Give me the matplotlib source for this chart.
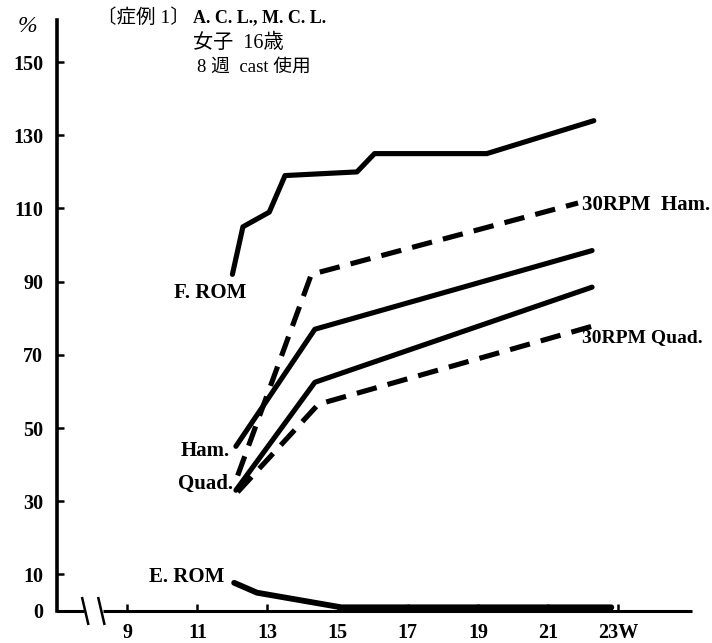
import matplotlib
matplotlib.use("Agg")
import matplotlib.pyplot as plt

plt.rcParams["font.family"] = ["Liberation Serif", "Noto Sans CJK JP"]

# 週
X_TICKS = [9, 11, 13, 15, 17, 19, 21, 23]
X_LABELS = ["9", "11", "13", "15", "17", "19", "21", "23W"]
Y_TICKS = [0, 10, 30, 50, 70, 90, 110, 130, 150]

# F. ROM (実線)
from_w = [12.0, 12.3, 13.05, 13.5, 15.55, 16.05, 19.25, 22.3]
from_v = [92, 105, 109, 119, 120, 125, 125, 134]
# 30RPM Ham. (破線)
ham30_w = [12.15, 14.25, 21.85]
ham30_v = [37, 92, 111.5]
# Ham. (実線)
ham_w = [12.1, 14.35, 22.25]
ham_v = [45, 77, 98.5]
# Quad. (実線)
quad_w = [12.1, 14.35, 22.25]
quad_v = [33, 62.5, 88.5]
# 30RPM Quad. (破線)
quad30_w = [12.15, 14.45, 22.5]
quad30_v = [32.5, 56.5, 78.5]
# E. ROM
erom_w = [12.05, 12.7, 15.1, 22.8]
erom_v = [7.7, 5.0, 1.0, 1.0]

fig = plt.figure(figsize=(7.12, 6.43), dpi=100)
ax = fig.add_axes([0.080, 0.0498, 0.892, 0.919])

LW = 3.7
DASH = (4, 2.2)
ax.plot(from_w, from_v, color="black", lw=LW, solid_capstyle="round")
ax.plot(ham_w, ham_v, color="black", lw=LW, solid_capstyle="round")
ax.plot(quad_w, quad_v, color="black", lw=LW, solid_capstyle="round")
ax.plot(ham30_w, ham30_v, color="black", lw=LW, dashes=DASH)
ax.plot(quad30_w, quad30_v, color="black", lw=LW, dashes=DASH)
ax.plot(erom_w, erom_v, color="black", lw=LW + 0.5, solid_capstyle="round", clip_on=False)

ax.set_xlim(7, 25.1)
ax.set_ylim(0, 161.5)

for s in ["top", "right", "bottom"]:
    ax.spines[s].set_visible(False)
ax.spines["left"].set_linewidth(2.6)

# x軸（途中省略）
ax.plot([7, 7.78], [0, 0], color="black", lw=2.2, clip_on=False, solid_capstyle="butt")
ax.plot([8.3, 25.1], [0, 0], color="black", lw=2.2, clip_on=False, solid_capstyle="butt")
for x0 in [7.72, 8.18]:
    ax.plot([x0, x0 + 0.17], [3.5, -3.5], color="black", lw=1.8, clip_on=False)

ax.set_xticks(X_TICKS)
ax.set_xticklabels(X_LABELS)
ax.set_yticks(Y_TICKS)
ax.tick_params(axis="both", direction="in", length=5, width=1.8, labelsize=14.5)
ax.tick_params(axis="y", pad=10)
ax.tick_params(axis="x", pad=9)
for t in ax.get_xticklabels() + ax.get_yticklabels():
    t.set_fontweight("bold")

LBL = 15
ax.text(11.36, 86.9, "F. ROM", fontsize=LBL, fontweight="bold", ha="center", va="center")
ax.text(11.93, 43.7, "Ham.", fontsize=LBL, fontweight="bold", ha="right", va="center")
ax.text(12.01, 34.7, "Quad.", fontsize=LBL, fontweight="bold", ha="right", va="center")
ax.text(11.78, 9.3, "E. ROM", fontsize=LBL, fontweight="bold", ha="right", va="center")
ax.text(21.95, 110.9, "30RPM  Ham.", fontsize=LBL, fontweight="bold", ha="left", va="center")
ax.text(21.95, 74.6, "30RPM Quad.", fontsize=14, fontweight="bold", ha="left", va="center")

fig.text(27.5 / 712, 1 - 27 / 643, "%", fontsize=17, style="italic", ha="center", va="center")
fig.text(97 / 712, 1 - 18 / 643, "〔症例 1〕", fontsize=14, ha="left", va="center")
fig.text(193 / 712, 1 - 18 / 643, "A. C. L., M. C. L.", fontsize=13, fontweight="bold",
         fontstretch="condensed", ha="left", va="center")
fig.text(193 / 712, 1 - 43 / 643, "女子  16歳", fontsize=14.5, ha="left", va="center")
fig.text(197 / 712, 1 - 67 / 643, "8 週  cast 使用", fontsize=13.5, ha="left", va="center")

fig.savefig("out.png", dpi=100)
